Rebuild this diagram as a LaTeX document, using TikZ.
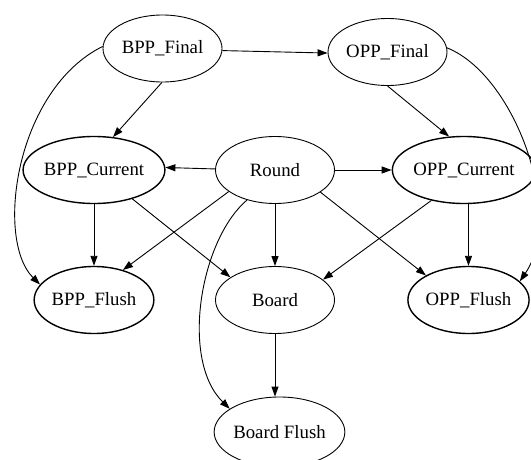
\documentclass[tikz,border=0pt]{standalone}
\usepackage{fontspec}
\setmainfont{Liberation Serif}
\usetikzlibrary{arrows.meta,shapes.geometric}
\begin{document}
\begin{tikzpicture}[x=1pt,y=-1pt,
  every node/.style={font=\fontsize{18.8}{22}\selectfont},
  nd/.style={ellipse,draw,line width=0.9pt,minimum width=119pt,minimum height=67pt,inner sep=0pt},
  ndb/.style={nd,line width=1.4pt},
  edge/.style={line width=0.9pt,-{Triangle[length=10pt,width=7pt]}}]
\useasboundingbox (0,0) rectangle (531,460);
\node[nd]  (BPPF) at (162.5,48.5) {BPP\_Final};
\node[nd]  (OPPF) at (387.5,52) {OPP\_Final};
\node[ndb] (BPPC) at (94,170) {BPP\_Current};
\node[nd]  (RND)  at (275,170) {Round};
\node[ndb] (OPPC) at (464,170) {OPP\_Current};
\node[ndb] (BPPFl) at (94,300) {BPP\_Flush};
\node[nd]  (BRD)  at (275,300) {Board};
\node[ndb] (OPPFl) at (468.5,300) {OPP\_Flush};
\node[nd,minimum width=117pt,minimum height=70pt] (BF) at (279.5,432) {Board Flush};

\draw[edge] (BPPF.-2.5) -- (OPPF.181);
\draw[edge] (BPPF.-91) -- (BPPC.60);
\draw[edge] (BPPF.178) .. controls (15,90) and (-5,240) .. (BPPFl.164);
\draw[edge] (OPPF.south) -- (OPPC.114);
\draw[edge] (OPPF.4) .. controls (515,75) and (565,215) .. (OPPFl.20);
\draw[edge] (RND.179) -- (BPPC.2);
\draw[edge] (RND) -- (OPPC);
\draw[edge] (RND.205) -- (BPPFl.46);
\draw[edge] (RND.south) -- (BRD.north);
\draw[edge] (RND.-26) -- (OPPFl.150);
\draw[edge] (RND.227) .. controls (200,240) and (180,360) .. (BF.155);
\draw[edge] (BPPC.south) -- (BPPFl.north);
\draw[edge] (BPPC.-37) -- (BRD.153);
\draw[edge] (OPPC.223) -- (BRD.23);
\draw[edge] (OPPC.south -| OPPFl.north) -- (OPPFl.north);
\draw[edge] (BRD.south) -- (BRD.south |- BF.north);
\end{tikzpicture}
\end{document}
